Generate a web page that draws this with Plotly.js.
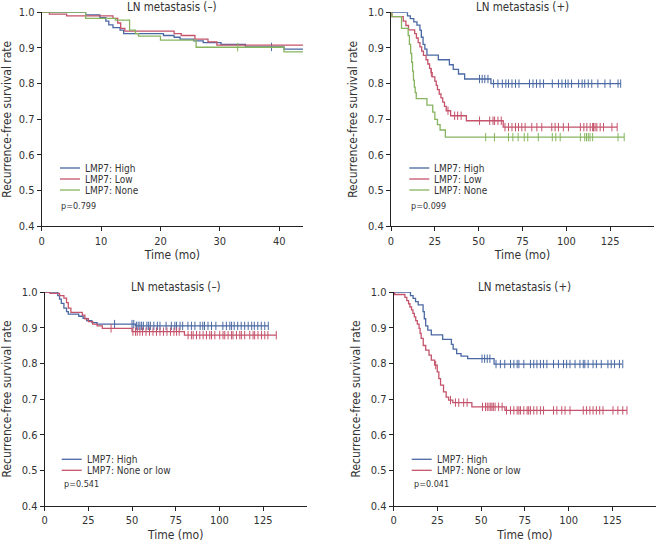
<!DOCTYPE html>
<html>
<head>
<meta charset="utf-8">
<script src="https://cdn.plot.ly/plotly-3.0.1.min.js"></script>
<style>html,body{margin:0;padding:0;background:#fff;}#chart{width:663px;height:545px;}</style>
</head>
<body>
<div id="chart"></div>
<script>
// ---------- DATA ----------
// Panel 1: LN metastasis (-), three groups, follow-up 0-44 mo
const p1HighT = [0, 7.4, 9.8, 10.8, 11.3, 12, 13.2, 13.8, 20.5, 22.3, 23.3, 25.6, 27.2, 30.2, 34.3, 40.8, 44];
const p1HighS = [1, 0.993, 0.985, 0.975, 0.965, 0.957, 0.95, 0.94, 0.935, 0.93, 0.925, 0.92, 0.915, 0.91, 0.903, 0.897, 0.897];
const p1HighC = [38.7];
const p1LowT = [0, 1.3, 4.2, 12, 12.8, 13.3, 14, 22.3, 23.5, 25.8, 28, 29.5, 44];
const p1LowS = [1, 0.995, 0.99, 0.983, 0.97, 0.955, 0.947, 0.94, 0.935, 0.925, 0.917, 0.908, 0.908];
const p1LowC = [];
const p1NoneT = [0, 7.4, 12.4, 14.8, 15.8, 16.3, 20, 26, 40.8, 44];
const p1NoneS = [1, 0.983, 0.978, 0.95, 0.94, 0.933, 0.922, 0.902, 0.889, 0.889];
const p1NoneC = [33];

// Panel 2: LN metastasis (+), three groups
const p2HighT = [0, 9.4, 11, 13, 14.8, 16.5, 17.3, 18.3, 19.3, 20.5, 27, 33.3, 35.5, 38.5, 42, 57, 131];
const p2HighS = [1, 0.99, 0.982, 0.973, 0.964, 0.95, 0.93, 0.91, 0.897, 0.88, 0.867, 0.853, 0.84, 0.827, 0.813, 0.8, 0.8];
const p2HighC = [50.5, 52, 53.5, 55.3, 58.5, 61, 63.5, 65.5, 67, 69, 71, 73, 79, 81, 83, 85, 87, 92, 95.5, 97.5, 99.5, 101, 103, 107, 109, 110.5, 112.5, 114.5, 118, 122, 125, 129.5, 131];
const p2LowT = [0, 0.5, 7, 8.5, 10, 13.5, 14.5, 15.5, 16.5, 17.5, 18.5, 20, 21, 22, 22.8, 23.5, 25, 25.8, 26.5, 27.5, 28.5, 29.5, 30.5, 31.5, 34, 43, 64, 129];
const p2LowS = [1, 0.988, 0.975, 0.963, 0.951, 0.94, 0.928, 0.915, 0.903, 0.891, 0.879, 0.867, 0.855, 0.843, 0.831, 0.819, 0.807, 0.795, 0.783, 0.771, 0.76, 0.748, 0.736, 0.724, 0.71, 0.696, 0.678, 0.678];
const p2LowC = [23, 32.5, 36.3, 38, 40, 50.5, 56.3, 58.2, 59.1, 61, 62.9, 65, 67, 69, 71, 72.7, 74.6, 76.5, 80.3, 83.2, 86, 91.7, 93.6, 95.5, 98.3, 101.2, 108, 110, 111.7, 113.6, 115, 115.5, 116.4, 117.4, 119.3, 121.2, 126, 129];
const p2NoneT = [0, 0.5, 6, 9.8, 10.5, 11.2, 11.8, 12.3, 12.8, 13.3, 13.8, 14.4, 20.5, 23.8, 25, 26.5, 28, 31, 133];
const p2NoneS = [1, 0.988, 0.955, 0.935, 0.91, 0.885, 0.86, 0.835, 0.81, 0.79, 0.775, 0.758, 0.74, 0.72, 0.70, 0.685, 0.67, 0.65, 0.65];
const p2NoneC = [54, 59, 67, 69.5, 72.5, 76, 78, 84, 92, 94, 96.5, 108, 110.5, 111.5, 112.5, 113.5, 115, 129.5, 133];

// Panel 3: LN metastasis (-), two groups
const p3HighT = [0, 7.5, 8.5, 9.5, 11, 12.5, 13.5, 19.5, 22, 24, 27, 30, 52, 128];
const p3HighS = [1, 0.99, 0.98, 0.968, 0.955, 0.945, 0.938, 0.932, 0.926, 0.92, 0.914, 0.91, 0.905, 0.905];
const p3HighC = [40, 50, 51, 52.5, 53.5, 54.5, 55.5, 56.5, 58.5, 59.5, 60.5, 62.5, 64.5, 66, 69.5, 72.5, 74.5, 75.5, 77.5, 79, 82, 84, 86, 89, 90.5, 91.5, 93.5, 95.5, 98, 102, 104, 106, 107, 108.5, 110.5, 112.5, 114.5, 116.5, 118.5, 120, 122, 124, 126, 128];
const p3LowT = [0, 3, 8.5, 11, 12.5, 13.5, 15, 21.5, 23, 25, 27.5, 30, 33, 50, 80, 132.6];
const p3LowS = [1, 0.996, 0.99, 0.983, 0.97, 0.955, 0.943, 0.935, 0.925, 0.917, 0.91, 0.905, 0.898, 0.889, 0.879, 0.879];
const p3LowC = [38, 50.5, 52, 53, 54.5, 56, 58, 60, 62, 64, 66, 68, 70, 72, 74, 75.5, 77, 82.1, 84, 85, 86.9, 88.8, 90.7, 92.6, 94.5, 95.5, 97.4, 100.2, 102.1, 103.1, 105, 106.9, 107.8, 109.8, 111.7, 112.6, 114.5, 117.4, 119.3, 120.2, 122.1, 124.1, 126, 127.8, 132.6];

// Panel 4: LN metastasis (+), two groups
const p4HighT = [0, 9.6, 11.1, 12.5, 14, 16.8, 17.5, 18.3, 19.5, 21.5, 28, 33, 34, 36, 38.5, 42.3, 57.4, 130.6];
const p4HighS = [1, 0.99, 0.982, 0.973, 0.964, 0.945, 0.925, 0.905, 0.893, 0.88, 0.867, 0.853, 0.84, 0.827, 0.82, 0.813, 0.798, 0.798];
const p4HighC = [50.5, 52, 53.5, 55, 58.5, 61, 63.5, 66.8, 68.7, 70.6, 71.6, 74.4, 78.2, 80.1, 81.9, 83.9, 85.7, 87.6, 91.4, 94.2, 97.1, 98.9, 100.8, 103.7, 106.5, 108.4, 109.3, 111.2, 114, 115.9, 118.7, 122.5, 124.4, 126.3, 129.1, 131];
const p4LowT = [0, 0.5, 6.4, 7.5, 8.5, 9.3, 10.2, 11, 11.8, 12.6, 13.5, 14.5, 15.1, 15.7, 16.9, 18.3, 20.2, 21.5, 23.4, 24.9, 25.8, 26.8, 28.5, 30, 31.4, 33.8, 44.7, 63.6, 133.4];
const p4LowS = [1, 0.993, 0.985, 0.976, 0.967, 0.958, 0.95, 0.94, 0.93, 0.92, 0.91, 0.898, 0.884, 0.87, 0.85, 0.837, 0.823, 0.809, 0.795, 0.776, 0.757, 0.739, 0.72, 0.705, 0.697, 0.69, 0.678, 0.668, 0.668];
const p4LowC = [24, 32.5, 35.3, 37.2, 40, 42, 50.8, 52.5, 53.5, 54.5, 55.5, 56.2, 57, 58, 60, 62, 64.5, 66.8, 68.7, 70.6, 71.6, 72.5, 74.4, 76.3, 77.2, 78.2, 80.1, 81.9, 83.9, 85.7, 91.4, 93.3, 96.1, 98, 100.8, 108.4, 110.3, 112.2, 114, 115.9, 117.8, 119.7, 125.4, 128.2, 131, 133.4];

const panelTitles = ['LN metastasis (\u2013)', 'LN metastasis (+)', 'LN metastasis (\u2013)', 'LN metastasis (+)'];
const pValues = ['p=0.799', 'p=0.099', 'p=0.541', 'p=0.041'];
const labels3 = ['LMP7: High', 'LMP7: Low', 'LMP7: None'];
const labels2 = ['LMP7: High', 'LMP7: None or low'];
const yTicks = [0.4, 0.5, 0.6, 0.7, 0.8, 0.9, 1.0];
const xTicksShort = [0, 10, 20, 30, 40];
const xTicksLong = [0, 25, 50, 75, 100, 125];

// ---------- STYLE ----------
const BLUE = '#4a68a3', RED = '#c4536b', GREEN = '#87b45f';
const FONT = 'Liberation Sans Narrow, Arial Narrow, DejaVu Sans Condensed, sans-serif';
const W = 663, H = 545;
const px = x => x / W, py = y => 1 - y / H;

function survAt(t, T, S) {
  let v = S[0];
  for (let i = 0; i < T.length; i++) { if (T[i] <= t) v = S[i]; else break; }
  return v;
}

const traces = [];
function addCurve(n, T, S, C, color) {
  const xa = n === 1 ? 'x' : 'x' + n, ya = n === 1 ? 'y' : 'y' + n;
  traces.push({x: T, y: S, xaxis: xa, yaxis: ya, type: 'scatter', mode: 'lines',
    line: {shape: 'hv', color: color, width: 1.3}, showlegend: false, cliponaxis: false, hoverinfo: 'skip'});
  if (C.length) traces.push({x: C, y: C.map(t => survAt(t, T, S)), xaxis: xa, yaxis: ya, type: 'scatter', mode: 'markers',
    marker: {symbol: 'line-ns-open', size: 6, color: color, line: {color: color, width: 1}}, showlegend: false, cliponaxis: false, hoverinfo: 'skip'});
}
addCurve(1, p1HighT, p1HighS, p1HighC, BLUE);
addCurve(1, p1LowT, p1LowS, p1LowC, RED);
addCurve(1, p1NoneT, p1NoneS, p1NoneC, GREEN);
addCurve(2, p2HighT, p2HighS, p2HighC, BLUE);
addCurve(2, p2LowT, p2LowS, p2LowC, RED);
addCurve(2, p2NoneT, p2NoneS, p2NoneC, GREEN);
addCurve(3, p3HighT, p3HighS, p3HighC, BLUE);
addCurve(3, p3LowT, p3LowS, p3LowC, RED);
addCurve(4, p4HighT, p4HighS, p4HighC, BLUE);
addCurve(4, p4LowT, p4LowS, p4LowC, RED);

// plot areas in pixels [left, right, top, bottom]
const boxes = [[41.7, 303, 12.3, 226.3], [391, 654, 12.3, 226.3], [44.7, 306.7, 292, 506], [393.7, 656, 292, 506]];
const xRanges = [[0, 44], [0, 150], [0, 150], [0, 150]];
const xTickSets = [xTicksShort, xTicksLong, xTicksLong, xTicksLong];

const layout = {width: W, height: H, margin: {l: 0, r: 0, t: 0, b: 0}, paper_bgcolor: '#fff', plot_bgcolor: '#fff',
  font: {family: FONT, color: '#333'}, showlegend: false, annotations: [], shapes: []};

function axisBase() {
  return {showline: true, linecolor: '#222', linewidth: 1, ticks: 'outside', ticklen: 4, tickwidth: 1, tickcolor: '#222',
    showgrid: false, zeroline: false, tickfont: {family: FONT, size: 11, color: '#333'}, fixedrange: true};
}

boxes.forEach((b, i) => {
  const n = i + 1, sx = n === 1 ? 'xaxis' : 'xaxis' + n, sy = n === 1 ? 'yaxis' : 'yaxis' + n;
  const xa = axisBase(), ya = axisBase();
  xa.domain = [px(b[0]), px(b[1])]; xa.range = xRanges[i]; xa.tickvals = xTickSets[i];
  xa.anchor = n === 1 ? 'y' : 'y' + n;
  xa.title = {text: 'Time (mo)', font: {family: FONT, size: 12, color: '#333'}, standoff: 4};
  ya.domain = [py(b[3]), py(b[2])]; ya.range = [0.4, 1.0]; ya.tickvals = yTicks; ya.tickformat = '.1f';
  ya.anchor = n === 1 ? 'x' : 'x' + n;
  ya.title = {text: 'Recurrence-free survival rate', font: {family: FONT, size: 12, color: '#333'}, standoff: 7};
  xa.automargin = false; ya.automargin = false;
  layout[sx] = xa; layout[sy] = ya;
  layout.annotations.push({text: panelTitles[i], xref: 'paper', yref: 'paper', x: px((b[0] + b[1]) / 2), y: py(b[2] - 5),
    xanchor: 'center', yanchor: 'middle', showarrow: false, font: {family: FONT, size: 11.5, color: '#333'}});
});

// legends (line samples + labels) and p-values
const legendPos = [[60, 80, 168], [409.3, 429.3, 168], [61.7, 81.7, 459.3], [411.7, 431.7, 459.3]];
const pPos = [[59, 206], [409, 206], [61.5, 484.3], [411.5, 484.3]];
const colorSets = [[BLUE, RED, GREEN], [BLUE, RED, GREEN], [BLUE, RED], [BLUE, RED]];
const labelSets = [labels3, labels3, labels2, labels2];
legendPos.forEach((lp, i) => {
  labelSets[i].forEach((lab, k) => {
    const yy = lp[2] + k * 11;
    layout.shapes.push({type: 'line', xref: 'paper', yref: 'paper', x0: px(lp[0]), x1: px(lp[1]), y0: py(yy), y1: py(yy),
      line: {color: colorSets[i][k], width: 1.3}});
    layout.annotations.push({text: lab, xref: 'paper', yref: 'paper', x: px(lp[1] + 3), y: py(yy), xanchor: 'left', yanchor: 'middle',
      showarrow: false, font: {family: FONT, size: 10, color: '#333'}});
  });
  layout.annotations.push({text: pValues[i], xref: 'paper', yref: 'paper', x: px(pPos[i][0]), y: py(pPos[i][1]), xanchor: 'left', yanchor: 'middle',
    showarrow: false, font: {family: FONT, size: 9, color: '#333'}});
});

Plotly.newPlot('chart', traces, layout, {displayModeBar: false, staticPlot: true});
</script>
</body>
</html>
